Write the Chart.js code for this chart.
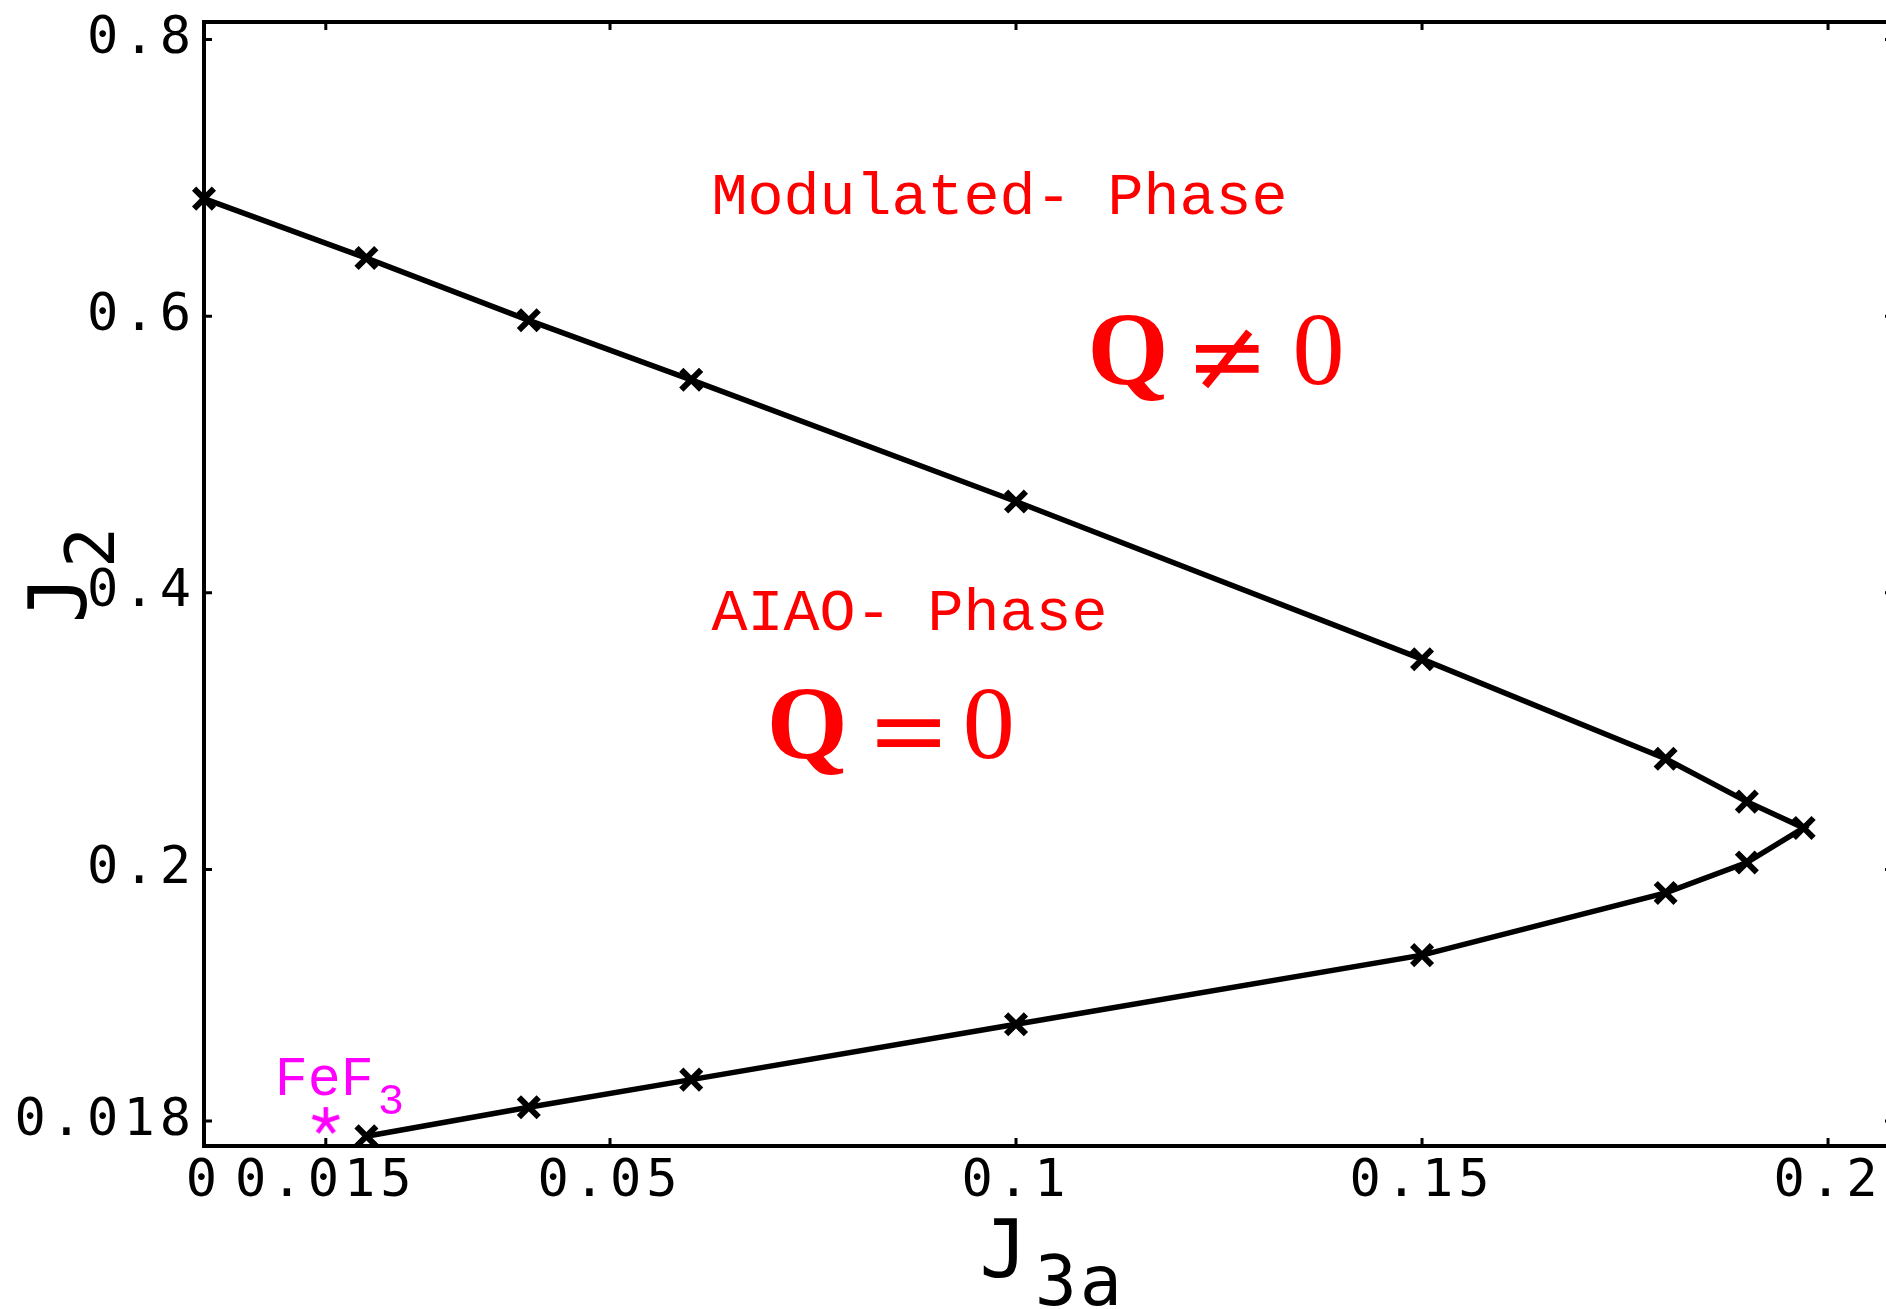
<!DOCTYPE html>
<html>
<head>
<meta charset="utf-8">
<title>J2 - J3a phase diagram</title>
<script src="https://cdn.jsdelivr.net/npm/chart.js@4.4.1/dist/chart.umd.min.js"></script>
<style>
  html, body { margin: 0; padding: 0; background: #fff; overflow: hidden; }
</style>
</head>
<body>
<canvas id="phaseChart" width="1896" height="1309"></canvas>
<script>
// phase boundary points: upper branch out to the tip, then back along the lower branch
const boundaryJ3a = [0, 0.02, 0.04, 0.06, 0.10, 0.15, 0.18, 0.19, 0.197, 0.19, 0.18, 0.15, 0.10, 0.06, 0.04, 0.02];
const boundaryJ2 = [0.685, 0.642, 0.597, 0.554, 0.466, 0.352, 0.280, 0.249, 0.230, 0.205, 0.183, 0.138, 0.088, 0.048, 0.028, 0.007];

// FeF3 parameters
const fef3J3a = [0.015];
const fef3J2 = [0.018];

const xTickValues = [0, 0.015, 0.05, 0.1, 0.15, 0.2];
const yTickValues = [0.018, 0.2, 0.4, 0.6, 0.8];

const tickFont = { family: '"DejaVu Sans Mono", monospace', size: 52 };

// hand drawn five-armed asterisk used as the FeF3 marker
function makeAsterisk(size, color) {
    const c = document.createElement('canvas');
    c.width = size;
    c.height = size;
    const g = c.getContext('2d');
    g.strokeStyle = color;
    g.lineWidth = 4.5;
    const r = size / 2 - 2;
    for (let k = 0; k < 5; k++) {
        const a = -Math.PI / 2 + k * 2 * Math.PI / 5;
        g.beginPath();
        g.moveTo(size / 2, size / 2);
        g.lineTo(size / 2 + r * Math.cos(a), size / 2 + r * Math.sin(a));
        g.stroke();
    }
    return c;
}

// keep the plot box where the layout padding puts it
function noScalePadding(scale) {
    scale.paddingTop = 0;
    scale.paddingBottom = 0;
    scale.paddingLeft = 0;
    scale.paddingRight = 0;
}

/**
 * Box frame with inward ticks on all four sides
 */
const frameTicks = {
    id: 'frameTicks',
    beforeDraw(chart) {
        chart.ctx.letterSpacing = '5px';
    },
    beforeDatasetsDraw(chart) {
        const { ctx, chartArea: a, scales } = chart;
        const len = 8;
        ctx.save();
        ctx.strokeStyle = '#000';
        ctx.lineWidth = 3;
        ctx.beginPath();
        xTickValues.forEach(v => {
            const px = scales.x.getPixelForValue(v);
            ctx.moveTo(px, a.bottom);
            ctx.lineTo(px, a.bottom - len);
            ctx.moveTo(px, a.top);
            ctx.lineTo(px, a.top + len);
        });
        yTickValues.forEach(v => {
            const py = scales.y.getPixelForValue(v);
            ctx.moveTo(a.left, py);
            ctx.lineTo(a.left + len, py);
            ctx.moveTo(a.right, py);
            ctx.lineTo(a.right - len, py);
        });
        ctx.stroke();
        ctx.lineWidth = 4;
        ctx.strokeRect(a.left, a.top, a.right - a.left, a.bottom - a.top);
        ctx.restore();
    }
};

/**
 * Phase names, order parameter labels, FeF3 label and axis titles
 */
const annotations = {
    id: 'annotations',
    afterDraw(chart) {
        const { ctx, chartArea: a, scales } = chart;
        const X = v => scales.x.getPixelForValue(v);
        const Y = v => scales.y.getPixelForValue(v);
        ctx.save();
        ctx.letterSpacing = '0px';
        ctx.textAlign = 'left';
        ctx.textBaseline = 'alphabetic';

        // phase names
        ctx.fillStyle = '#ff0000';
        ctx.font = '60px "Liberation Mono", monospace';
        ctx.fillText('Modulated- Phase', X(0.0625), Y(0.674));
        ctx.fillText('AIAO- Phase', X(0.0625), Y(0.373));

        // order parameter
        const orderLabel = (x, y, rel, relOffset, zeroOffset) => {
            ctx.textAlign = 'left';
            ctx.font = 'bold 104px "Liberation Serif", serif';
            ctx.fillText('Q', x, y);
            ctx.textAlign = 'center';
            ctx.font = '100px "DejaVu Serif", serif';
            ctx.fillText(rel, x + relOffset, y + 6);
            ctx.textAlign = 'left';
            ctx.font = '104px "Liberation Serif", serif';
            ctx.fillText('0', x + zeroOffset, y);
        };
        orderLabel(X(0.1088), Y(0.551), '\u2260', 140, 205);
        orderLabel(X(0.0693), Y(0.2805), '=', 142, 196);

        // FeF3
        ctx.fillStyle = '#ff00ff';
        ctx.textAlign = 'left';
        ctx.font = '55px "Liberation Mono", monospace';
        const fx = X(0.0087), fy = Y(0.0369);
        ctx.fillText('FeF', fx, fy);
        const w = ctx.measureText('FeF').width;
        ctx.font = '44px "Liberation Mono", monospace';
        ctx.fillText('3', fx + w + 4, fy + 19);

        // axis titles
        ctx.fillStyle = '#000';
        ctx.letterSpacing = '3px';
        const xl = X(0.0955);
        ctx.font = '80px "DejaVu Sans Mono", monospace';
        ctx.fillText('J', xl, a.bottom + 131);
        let jw = ctx.measureText('J').width;
        ctx.font = '70px "DejaVu Sans Mono", monospace';
        ctx.fillText('3a', xl + jw + 4, a.bottom + 159);

        ctx.translate(a.left - 118, Y(0.378));
        ctx.rotate(-Math.PI / 2);
        ctx.font = '80px "DejaVu Sans Mono", monospace';
        ctx.fillText('J', 0, 0);
        jw = ctx.measureText('J').width;
        ctx.font = '68px "DejaVu Sans Mono", monospace';
        ctx.fillText('2', jw + 4, 28);
        ctx.restore();
    }
};

const ctx = document.getElementById('phaseChart');

new Chart(ctx, {
    type: 'scatter',
    data: {
        datasets: [{
            label: 'phase boundary',
            data: boundaryJ3a.map((x, i) => ({ x: x, y: boundaryJ2[i] })),
            showLine: true,
            borderColor: '#000',
            borderWidth: 5.5,
            pointStyle: 'crossRot',
            pointRadius: 14,
            pointBorderWidth: 6,
            pointBorderColor: '#000',
            pointBackgroundColor: '#000',
            clip: false
        }, {
            label: 'FeF3',
            data: fef3J3a.map((x, i) => ({ x: x, y: fef3J2[i] })),
            showLine: false,
            pointStyle: makeAsterisk(32, '#ff00ff'),
            pointRadius: 16,
            clip: false
        }]
    },
    options: {
        responsive: false,
        animation: false,
        events: [],
        layout: {
            autoPadding: false,
            padding: { top: 22, right: 3, left: 0, bottom: 0 }
        },
        plugins: {
            legend: { display: false },
            tooltip: { enabled: false }
        },
        scales: {
            x: {
                type: 'linear',
                min: 0,
                max: 0.208,
                afterFit(scale) { scale.height = 163; noScalePadding(scale); },
                afterBuildTicks(scale) { scale.ticks = xTickValues.map(v => ({ value: v })); },
                grid: { display: false, drawTicks: false },
                border: { display: false },
                ticks: {
                    autoSkip: false,
                    maxRotation: 0,
                    padding: 5,
                    color: '#000',
                    font: tickFont,
                    callback: v => String(v)
                }
            },
            y: {
                type: 'linear',
                min: 0,
                max: 0.8127,
                afterFit(scale) { scale.width = 204; noScalePadding(scale); },
                afterBuildTicks(scale) { scale.ticks = yTickValues.map(v => ({ value: v })); },
                grid: { display: false, drawTicks: false },
                border: { display: false },
                ticks: {
                    autoSkip: false,
                    padding: 8,
                    color: '#000',
                    font: tickFont,
                    callback: v => String(v)
                }
            }
        }
    },
    plugins: [frameTicks, annotations]
});
</script>
</body>
</html>
